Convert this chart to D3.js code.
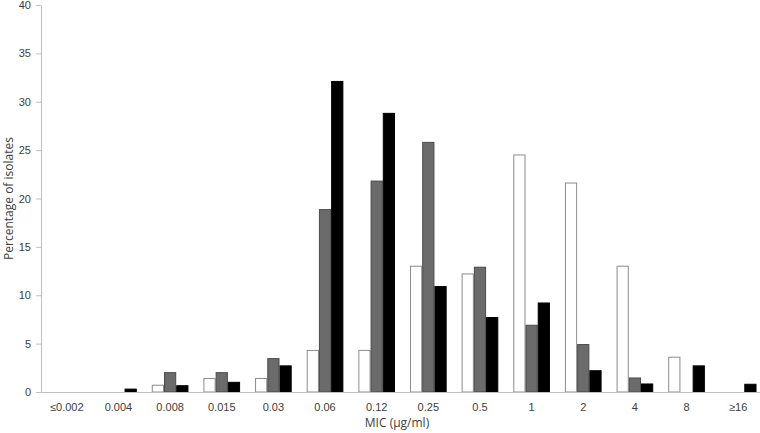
<!DOCTYPE html>
<html>
<head>
<meta charset="utf-8">
<script src="https://cdn.jsdelivr.net/npm/d3@7"></script>
<style>
  body { margin: 0; background: #fff; }
  svg { display: block; font-family: 'Open Sans', sans-serif; }
  .axis path, .axis line { stroke: #bfbfbf; }
  .axis text { fill: #404040; font-size: 11px; }
  .title { fill: #404040; font-size: 12px; }
</style>
</head>
<body>
<svg id="chart" width="760" height="433"></svg>
<script>
// DATA
const categories = ['≤0.002', '0.004', '0.008', '0.015', '0.03', '0.06', '0.12', '0.25', '0.5', '1', '2', '4', '8', '≥16'];
const seriesWhite = [0, 0, 0.7, 1.4, 1.4, 4.3, 4.3, 13.0, 12.2, 24.5, 21.6, 13.0, 3.6, 0];
const seriesGray = [0, 0, 2.0, 2.0, 3.45, 18.85, 21.8, 25.8, 12.9, 6.9, 4.9, 1.45, 0, 0];
const seriesBlack = [0, 0.3, 0.65, 1.0, 2.7, 32.1, 28.8, 10.9, 7.7, 9.2, 2.2, 0.83, 2.7, 0.8];
const yTicks = [0, 5, 10, 15, 20, 25, 30, 35, 40];

// SETUP
const svg = d3.select('#chart'),
  margin = { top: 5, right: -4, bottom: 41, left: 41 },
  width = 760 - margin.left - margin.right,
  height = 433 - margin.top - margin.bottom;

const series = [
  { key: 'white', values: seriesWhite, fill: '#ffffff', stroke: '#8c8c8c' },
  { key: 'gray', values: seriesGray, fill: '#6b6b6b', stroke: '#4a4a4a' },
  { key: 'black', values: seriesBlack, fill: '#000000', stroke: '#000000' }
];

const x = d3.scaleBand().domain(categories).range([0, width]).paddingInner(0.29).paddingOuter(0.145);
const xs = d3.scaleBand().domain(series.map(s => s.key)).range([0, x.bandwidth()]);
const y = d3.scaleLinear().domain([0, 40]).range([height, 0]);

const g = svg.append('g').attr('transform', 'translate(' + margin.left + ',' + margin.top + ')');

// BARS
series.forEach(s => {
  g.append('g')
    .selectAll('rect')
    .data(categories.map((c, i) => ({ c: c, v: s.values[i] })).filter(d => d.v > 0))
    .enter()
    .append('rect')
    .attr('x', d => x(d.c) + xs(s.key) + 0.5)
    .attr('y', d => y(d.v))
    .attr('width', xs.bandwidth() - 1)
    .attr('height', d => height - y(d.v))
    .attr('fill', s.fill)
    .attr('stroke', s.stroke)
    .attr('stroke-width', 1);
});

// AXES
const xAxis = g.append('g')
  .attr('class', 'axis')
  .attr('transform', 'translate(0,' + height + ')')
  .call(d3.axisBottom(x).tickSize(0).tickSizeOuter(0));
xAxis.selectAll('text').attr('dy', '1.45em');

const yAxis = g.append('g')
  .attr('class', 'axis')
  .call(d3.axisLeft(y).tickValues(yTicks).tickSize(5).tickSizeOuter(0));
yAxis.selectAll('text').attr('dx', '-2');

// AXIS TITLES
svg.append('text')
  .attr('class', 'title')
  .attr('text-anchor', 'middle')
  .attr('x', margin.left + 356)
  .attr('y', 427)
  .text('MIC (µg/ml)');

svg.append('text')
  .attr('class', 'title')
  .attr('text-anchor', 'middle')
  .attr('transform', 'translate(13,' + (margin.top + height / 2) + ') rotate(-90)')
  .text('Percentage of isolates');
</script>
</body>
</html>
